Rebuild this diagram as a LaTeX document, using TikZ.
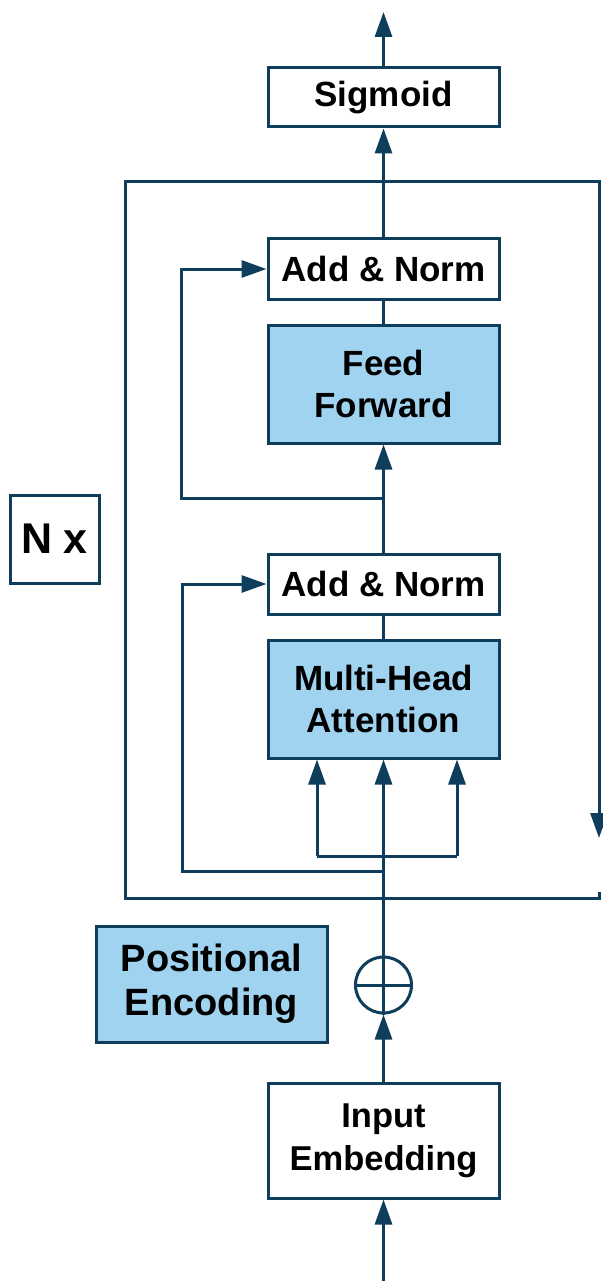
\documentclass[tikz,border=0pt]{standalone}
\usepackage{fontspec}
\setmainfont{Liberation Sans}
\usetikzlibrary{arrows.meta}
\definecolor{navy}{HTML}{0F3D5C}
\definecolor{skyfill}{HTML}{9FD3F0}
\begin{document}
\begin{tikzpicture}[x=1pt, y=-1pt,
  box/.style={draw=navy, line width=3pt, minimum width=231pt, inner sep=0pt,
    align=center, font=\fontsize{35}{42}\selectfont\bfseries},
  bluebox/.style={box, fill=skyfill},
  conn/.style={draw=navy, line width=3pt, line join=miter},
  arr/.style={-{Triangle[length=25pt, width=17pt]}}]
  % canvas
  \fill[white] (0,0) rectangle (602,1281);
  \useasboundingbox (0,0) rectangle (602,1281);

  % blocks
  \node[box, minimum height=59pt] (sig) at (383.5,97.5) {Sigmoid};
  \node[box, minimum height=60pt] (an2) at (383.5,269) {Add \& Norm};
  \node[bluebox, minimum height=118pt] (ff) at (383.5,384) {Feed\\Forward};
  \node[box, minimum height=60pt] (an1) at (383.5,584) {Add \& Norm};
  \node[bluebox, minimum height=118pt] (mha) at (383.5,699) {Multi-Head\\Attention};
  \node[bluebox, minimum height=116pt, font=\fontsize{38}{44}\selectfont\bfseries]
    (pe) at (211.5,984) {Positional\\Encoding};
  \node[box, minimum height=115pt, font=\fontsize{34.5}{43}\selectfont\bfseries]
    (ie) at (383.5,1140.5) {Input\\Embedding};
  \node[box, minimum width=89pt, minimum height=88pt,
    font=\fontsize{43}{46}\selectfont\bfseries] (nx) at (54.5,539) {N x};
  \node[draw=navy, line width=3pt, circle, minimum size=56pt, inner sep=0pt]
    (plus) at (383.5,985) {};
  \draw[conn] (plus.north) -- (plus.south) (plus.west) -- (plus.east);

  % helper points
  \coordinate (inp) at (383.5,1281);
  \coordinate (out) at (383.5,12);
  \coordinate (qL) at (317,856);
  \coordinate (qR) at (457,856);
  \coordinate (r1) at (383.5,871);
  \coordinate (r2) at (383.5,498);
  \coordinate (fTL) at (125,182);
  \coordinate (fBR) at (599,898);
  \coordinate (fGap) at (599,892);
  \coordinate (fTip) at (599,838);

  % repeated layer frame
  \draw[conn, arr] (fGap) -- (fBR) -- (fTL |- fBR) -- (fTL) -- (fBR |- fTL) -- (fTip);

  % main data path
  \draw[conn, arr] (inp) -- (ie.south);
  \draw[conn, arr] (ie.north) -- (plus.south);
  \draw[conn, arr] (plus.north) -- (mha.south);
  \draw[conn] (qL) -- (qR);
  \draw[conn, arr] (qL) -- (qL |- mha.south);
  \draw[conn, arr] (qR) -- (qR |- mha.south);
  \draw[conn] (mha.north) -- (an1.south);
  \draw[conn, arr] (an1.north) -- (ff.south);
  \draw[conn] (ff.north) -- (an2.south);
  \draw[conn, arr] (an2.north) -- (sig.south);
  \draw[conn, arr] (sig.north) -- (out);

  % residual connections
  \draw[conn, arr] (r1) -| ([xshift=-84pt]an1.west) -- (an1.west);
  \draw[conn, arr] (r2) -| ([xshift=-85pt]an2.west) -- (an2.west);
\end{tikzpicture}
\end{document}
